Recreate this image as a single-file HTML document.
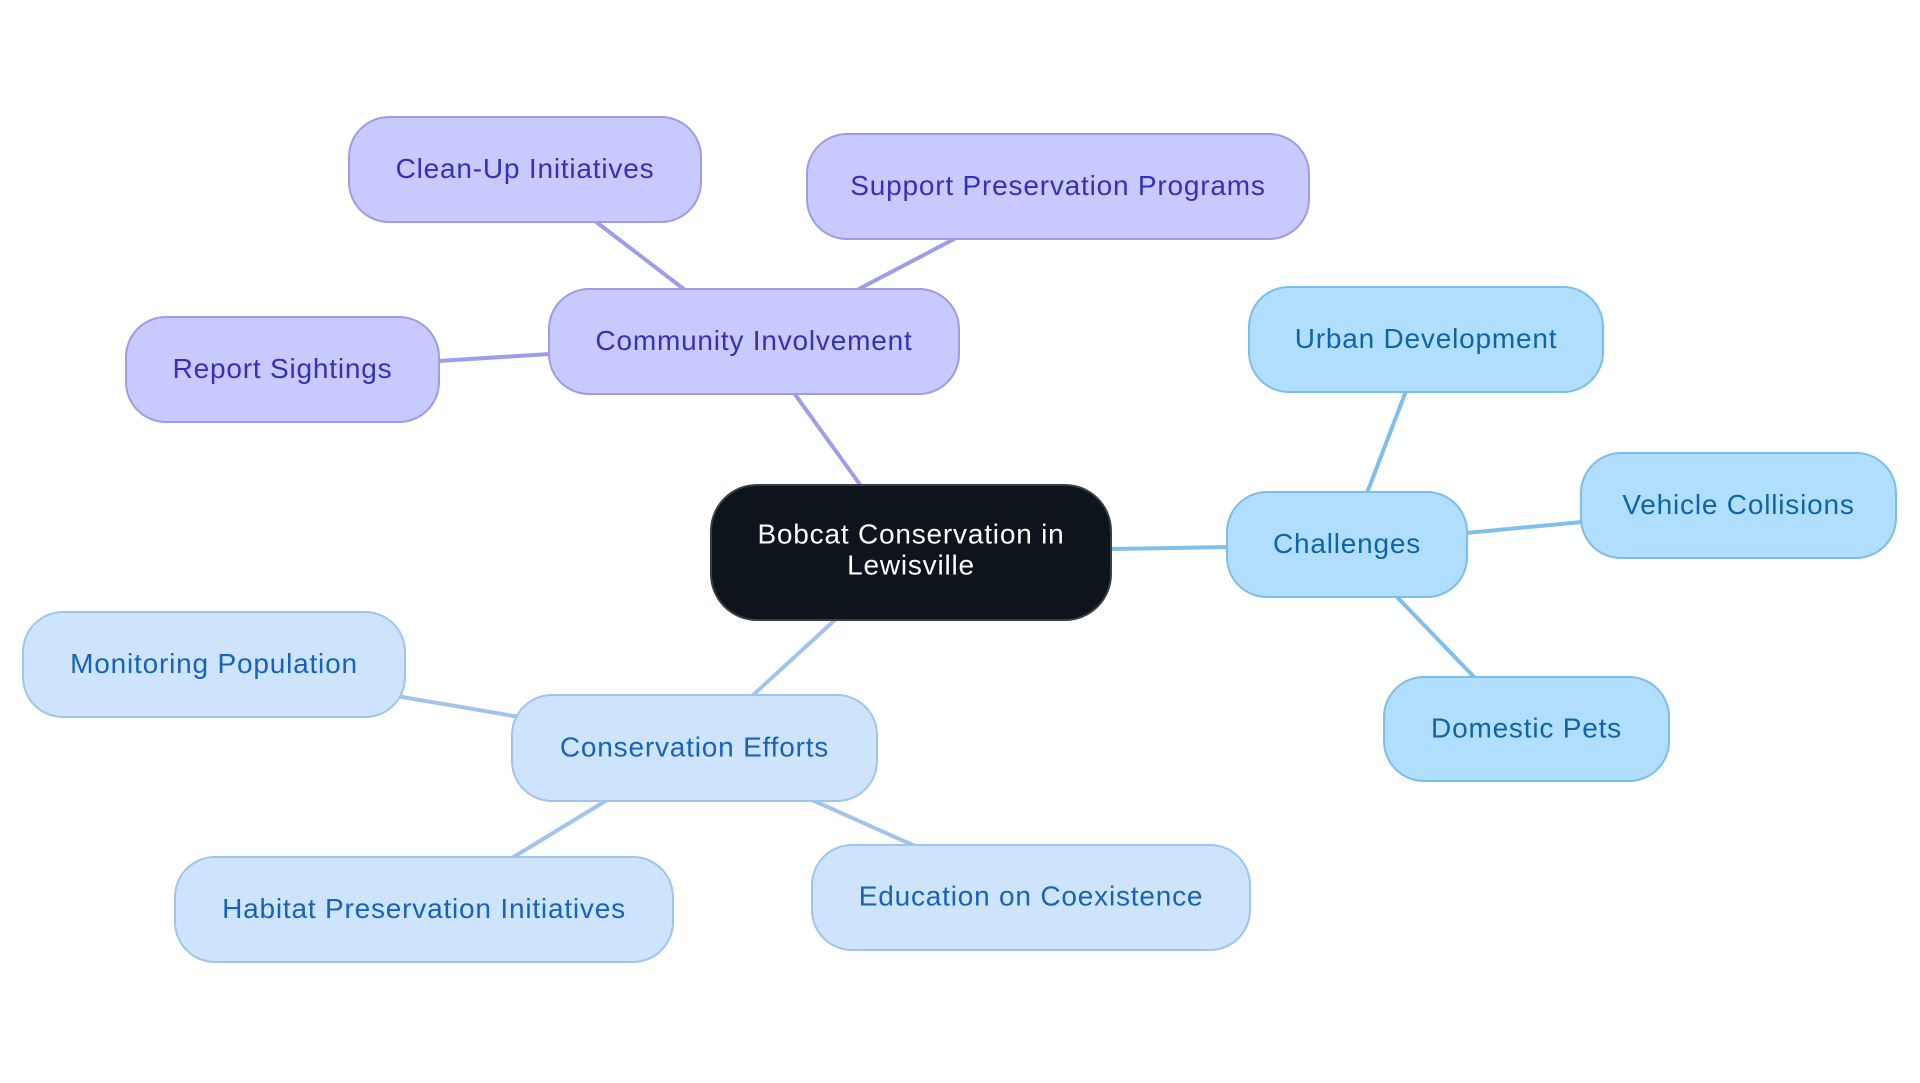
<!DOCTYPE html>
<html>
<head>
<meta charset="utf-8">
<style>
  html, body { margin: 0; padding: 0; background: #ffffff; }
  body { width: 1920px; height: 1083px; overflow: hidden; }
  svg { display: block; }
  text { font-family: "Liberation Sans", sans-serif; font-size: 28px; letter-spacing: 0.8px; }
  .p rect { fill: #c8c9ff; stroke: #9c9ce9; stroke-width: 2; }
  .p text { fill: #3232b8; }
  .c rect { fill: #b2defd; stroke: #7dbde9; stroke-width: 2; }
  .c text { fill: #0d65a8; }
  .e rect { fill: #cde4fc; stroke: #9fc4ee; stroke-width: 2; }
  .e text { fill: #1762bd; }
</style>
</head>
<body>
<svg width="1920" height="1083" viewBox="0 0 1920 1083" xmlns="http://www.w3.org/2000/svg">
  <!-- edges -->
  <g stroke-width="4" stroke-linecap="round" fill="none">
    <g stroke="#9d9deb">
      <line x1="861" y1="486" x2="794" y2="393"/>
      <line x1="685" y1="290" x2="595" y2="221"/>
      <line x1="857" y1="290" x2="956" y2="238"/>
      <line x1="550" y1="354" x2="438" y2="361"/>
    </g>
    <g stroke="#7fbfea">
      <line x1="1110" y1="549" x2="1228" y2="547"/>
      <line x1="1367" y1="493" x2="1406" y2="391"/>
      <line x1="1466" y1="533" x2="1582" y2="522"/>
      <line x1="1398" y1="598" x2="1475" y2="678"/>
    </g>
    <g stroke="#a0c4ee">
      <line x1="836" y1="619" x2="752" y2="696"/>
      <line x1="520" y1="717" x2="396" y2="696"/>
      <line x1="607" y1="800" x2="512" y2="858"/>
      <line x1="812" y1="800" x2="915" y2="846"/>
    </g>
  </g>

  <!-- root -->
  <g>
    <rect x="711" y="485" width="400" height="135" rx="46" ry="46" fill="#0d141c" stroke="#3a3f46" stroke-width="2"/>
    <text x="911" y="543.5" text-anchor="middle" fill="#ffffff">Bobcat Conservation in</text>
    <text x="911" y="574.5" text-anchor="middle" fill="#ffffff">Lewisville</text>
  </g>

  <!-- purple section -->
  <g class="p">
    <rect x="549" y="289" width="410" height="105" rx="40" ry="40"/>
    <text x="754" y="350" text-anchor="middle">Community Involvement</text>
  </g>
  <g class="p">
    <rect x="349" y="117" width="352" height="105" rx="40" ry="40"/>
    <text x="525" y="178" text-anchor="middle">Clean-Up Initiatives</text>
  </g>
  <g class="p">
    <rect x="807" y="134" width="502" height="105" rx="40" ry="40"/>
    <text x="1058" y="195" text-anchor="middle">Support Preservation Programs</text>
  </g>
  <g class="p">
    <rect x="126" y="317" width="313" height="105" rx="40" ry="40"/>
    <text x="282.5" y="378" text-anchor="middle">Report Sightings</text>
  </g>

  <!-- challenges section -->
  <g class="c">
    <rect x="1227" y="492" width="240" height="105" rx="40" ry="40"/>
    <text x="1347" y="553" text-anchor="middle">Challenges</text>
  </g>
  <g class="c">
    <rect x="1249" y="287" width="354" height="105" rx="40" ry="40"/>
    <text x="1426" y="348" text-anchor="middle">Urban Development</text>
  </g>
  <g class="c">
    <rect x="1581" y="453" width="315" height="105" rx="40" ry="40"/>
    <text x="1738.5" y="514" text-anchor="middle">Vehicle Collisions</text>
  </g>
  <g class="c">
    <rect x="1384" y="677" width="285" height="104" rx="40" ry="40"/>
    <text x="1526.5" y="737.5" text-anchor="middle">Domestic Pets</text>
  </g>

  <!-- conservation section -->
  <g class="e">
    <rect x="512" y="695" width="365" height="106" rx="40" ry="40"/>
    <text x="694.5" y="756.5" text-anchor="middle">Conservation Efforts</text>
  </g>
  <g class="e">
    <rect x="23" y="612" width="382" height="105" rx="40" ry="40"/>
    <text x="214" y="673" text-anchor="middle">Monitoring Population</text>
  </g>
  <g class="e">
    <rect x="175" y="857" width="498" height="105" rx="40" ry="40"/>
    <text x="424" y="918" text-anchor="middle">Habitat Preservation Initiatives</text>
  </g>
  <g class="e">
    <rect x="812" y="845" width="438" height="105" rx="40" ry="40"/>
    <text x="1031" y="905.5" text-anchor="middle">Education on Coexistence</text>
  </g>
</svg>
</body>
</html>
